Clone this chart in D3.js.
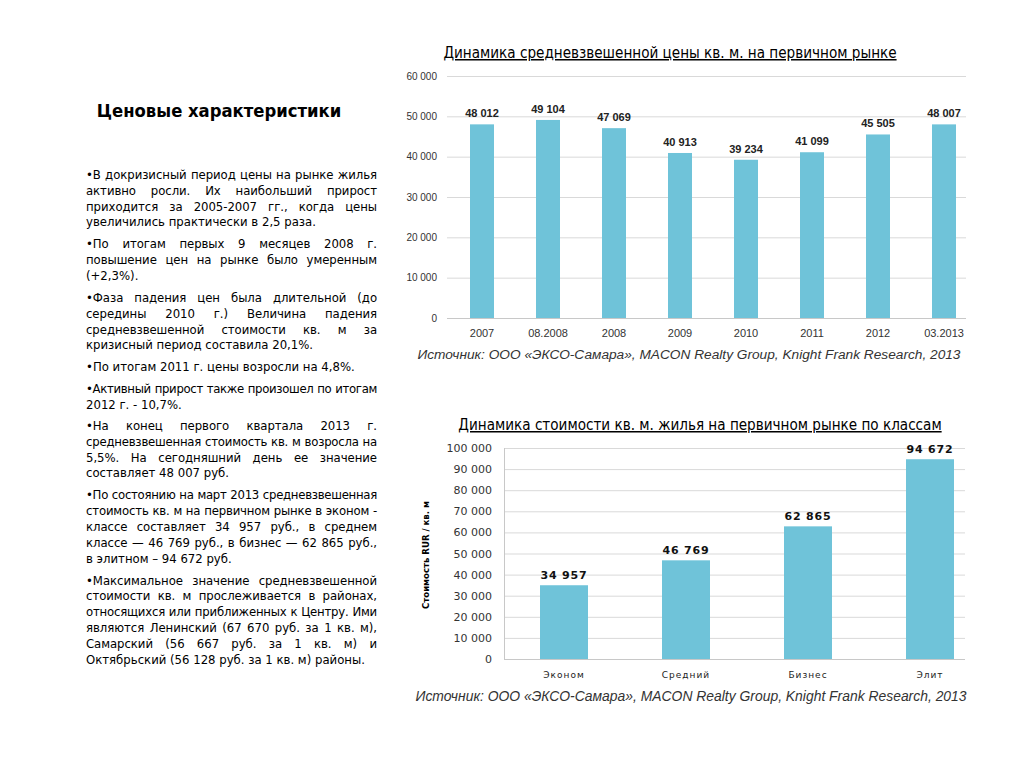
<!DOCTYPE html>
<html><head><meta charset="utf-8">
<script src="https://cdn.jsdelivr.net/npm/d3@7"></script>
<style>
body{margin:0;background:#fff;}
#wrap{position:relative;width:1024px;height:768px;overflow:hidden;}
svg{position:absolute;left:0;top:0;}
#txt{position:absolute;left:86px;top:167px;width:291px;font-family:"DejaVu Sans Condensed","DejaVu Sans";font-stretch:condensed;font-size:13px;color:#000;}
.ln{height:15.8px;line-height:15.8px;white-space:nowrap;text-align:justify;text-align-last:justify;}
.ln.last{text-align-last:left;}
.p{margin-bottom:6.2px;}
</style></head>
<body><div id="wrap"><svg id="chart" width="1024" height="768"></svg><div id="txt"></div></div>
<script>
// ---- data ----
const years = ["2007","08.2008","2008","2009","2010","2011","2012","03.2013"];
const avgPrice = [48012,49104,47069,40913,39234,41099,45505,48007];
const yTicksTop = [0,10000,20000,30000,40000,50000,60000];
const classes = ["Эконом","Средний","Бизнес","Элит"];
const classPrice = [34957,46769,62865,94672];
const yTicksBottom = [0,10000,20000,30000,40000,50000,60000,70000,80000,90000,100000];
const titleTop = "Динамика средневзвешенной цены кв. м. на первичном рынке";
const titleBottom = "Динамика стоимости кв. м. жилья на первичном рынке по классам";
const sourceText = "Источник: ООО «ЭКСО-Самара», MACON Realty Group, Knight Frank Research, 2013";
const yTitleBottom = "Стоимость RUR / кв. м";
const heading = "Ценовые характеристики";
const paragraphs = [
 ["•В докризисный период цены на рынке жилья","активно росли. Их наибольший прирост","приходится за 2005-2007 гг., когда цены","увеличились практически в 2,5 раза."],
 ["•По итогам первых 9 месяцев 2008 г.","повышение цен на рынке было умеренным","(+2,3%)."],
 ["•Фаза падения цен была длительной (до","середины 2010 г.) Величина падения","средневзвешенной стоимости кв. м за","кризисный период составила 20,1%."],
 ["•По итогам 2011 г. цены возросли на 4,8%."],
 ["•Активный прирост также произошел по итогам","2012 г. - 10,7%."],
 ["•На конец первого квартала 2013 г.","средневзвешенная стоимость кв. м возросла на","5,5%. На сегодняшний день ее значение","составляет 48 007 руб."],
 ["•По состоянию на март 2013 средневзвешенная","стоимость кв. м на первичном рынке в эконом -","классе составляет 34 957 руб., в среднем","классе — 46 769 руб., в бизнес — 62 865 руб.,","в элитном – 94 672 руб."],
 ["•Максимальное значение средневзвешенной","стоимости кв. м прослеживается в районах,","относящихся или приближенных к Центру. Ими","являются Ленинский (67 670 руб. за 1 кв. м),","Самарский (56 667 руб. за 1 кв. м) и","Октябрьский (56 128 руб. за 1 кв. м) районы."]
];

const fmt = v => d3.format(",")(v).replace(/,/g, " ");
const barColor = "#6FC3D9";
const svg = d3.select("#chart");

// ---- left text ----
const txt = d3.select("#txt");
paragraphs.forEach((lines, pi) => {
  const p = txt.append("div").attr("class", "p");
  if (pi === 4) p.style("margin-top", "4px");
  if (pi === 5) p.style("margin-top", "-1px");
  lines.forEach((l, i) => {
    p.append("div").attr("class", "ln" + (i === lines.length - 1 ? " last" : "")).text(l);
  });
});
// shrink letter spacing on lines that would overflow the column
txt.selectAll(".ln").each(function() {
  const el = this;
  const span = document.createElement("span");
  span.textContent = el.textContent;
  span.style.whiteSpace = "nowrap";
  el.textContent = "";
  el.appendChild(span);
  const w = span.getBoundingClientRect().width;
  if (w > 289) {
    const n = span.textContent.length;
    el.style.letterSpacing = (-(w - 289) / n) + "px";
  }
  el.textContent = span.textContent;
});
svg.append("text").attr("x", 219).attr("y", 117).attr("text-anchor", "middle")
  .style("font-family", "'DejaVu Sans Condensed','DejaVu Sans'").style("font-weight", "bold")
  .style("font-size", "18.3px").text(heading);

// ---- top chart ----
const x1 = d3.scaleBand().domain(years).range([449, 977]).padding(0);
const y1 = d3.scaleLinear().domain([0, 60000]).range([318, 76]);
const g1 = svg.append("g");
const gridTop = g1.append("g").attr("transform", "translate(447,0)")
  .call(d3.axisLeft(y1).tickValues(yTicksTop).tickSize(-(966 - 447)).tickPadding(10).tickFormat(fmt));
gridTop.select(".domain").remove();
gridTop.selectAll(".tick line").attr("stroke", "#d9d9d9");
gridTop.selectAll(".tick text").attr("fill", "#333").style("font-family", "'Liberation Sans',Arial").style("font-size", "10px");
const bw1 = 24;
g1.selectAll("rect.b1").data(years).join("rect").attr("class", "b1")
  .attr("x", d => x1(d) + (x1.bandwidth() - bw1) / 2).attr("width", bw1)
  .attr("y", (d, i) => y1(avgPrice[i])).attr("height", (d, i) => y1(0) - y1(avgPrice[i]))
  .attr("fill", barColor);
g1.selectAll("text.v1").data(years).join("text").attr("class", "v1")
  .attr("x", d => x1(d) + x1.bandwidth() / 2).attr("y", (d, i) => y1(avgPrice[i]) - 7)
  .attr("text-anchor", "middle").style("font-family", "'Liberation Sans',Arial")
  .style("font-weight", "bold").style("font-size", "11px").attr("fill", "#222")
  .text((d, i) => fmt(avgPrice[i]));
const xAx1 = g1.append("g").attr("transform", "translate(0,318)")
  .call(d3.axisBottom(x1).tickSize(0).tickPadding(11));
xAx1.select(".domain").attr("stroke", "#c8c8c8").attr("d", "M447,0.5H966");
xAx1.selectAll("text").attr("fill", "#333").style("font-family", "'Liberation Sans',Arial").style("font-size", "11px");
svg.append("text").attr("x", 670).attr("y", 58).attr("text-anchor", "middle")
  .style("font-family", "'DejaVu Sans Condensed','DejaVu Sans'").style("font-size", "15.1px")
  .style("text-decoration", "underline").text(titleTop);
svg.append("text").attr("x", 689).attr("y", 359).attr("text-anchor", "middle")
  .style("font-family", "'Liberation Sans',Arial").style("font-style", "italic")
  .style("font-size", "13.7px").attr("fill", "#333").text(sourceText);

// ---- bottom chart ----
const x2 = d3.scaleBand().domain(classes).range([503, 991]).padding(0);
const y2 = d3.scaleLinear().domain([0, 100000]).range([659, 448]);
const g2 = svg.append("g");
const gridB = g2.append("g").attr("transform", "translate(504,0)")
  .call(d3.axisLeft(y2).tickValues(yTicksBottom).tickSize(-(965 - 504)).tickPadding(12).tickFormat(fmt));
gridB.select(".domain").remove();
gridB.selectAll(".tick line").attr("stroke", "#d9d9d9");
gridB.selectAll(".tick text").attr("fill", "#333").style("font-family", "'DejaVu Sans'").style("font-size", "11px");
g2.append("line").attr("x1", 504.5).attr("x2", 504.5).attr("y1", 448).attr("y2", 659).attr("stroke", "#c8c8c8");
const bw2 = 48;
g2.selectAll("rect.b2").data(classes).join("rect").attr("class", "b2")
  .attr("x", d => x2(d) + (x2.bandwidth() - bw2) / 2).attr("width", bw2)
  .attr("y", (d, i) => y2(classPrice[i])).attr("height", (d, i) => y2(0) - y2(classPrice[i]))
  .attr("fill", barColor);
g2.selectAll("text.v2").data(classes).join("text").attr("class", "v2")
  .attr("x", d => x2(d) + x2.bandwidth() / 2).attr("y", (d, i) => y2(classPrice[i]) - 6)
  .attr("text-anchor", "middle").style("font-family", "'DejaVu Sans'")
  .style("font-weight", "bold").style("font-size", "11px").style("letter-spacing", "0.8px").attr("fill", "#111")
  .text((d, i) => fmt(classPrice[i]));
const xAx2 = g2.append("g").attr("transform", "translate(0,659)")
  .call(d3.axisBottom(x2).tickSize(0).tickPadding(13));
xAx2.select(".domain").attr("stroke", "#c8c8c8").attr("d", "M504,0.5H965");
xAx2.selectAll("text").attr("fill", "#222").style("font-family", "'DejaVu Sans'").style("font-size", "9px").style("letter-spacing", "1px");
svg.append("text").attr("transform", "translate(429,555) rotate(-90)").attr("text-anchor", "middle")
  .style("font-family", "'DejaVu Sans Condensed','DejaVu Sans'").style("font-weight", "bold")
  .style("font-size", "9.5px").text(yTitleBottom);
svg.append("text").attr("x", 700).attr("y", 430).attr("text-anchor", "middle")
  .style("font-family", "'DejaVu Sans Condensed','DejaVu Sans'").style("font-size", "15.1px")
  .style("text-decoration", "underline").text(titleBottom);
svg.append("text").attr("x", 691).attr("y", 701).attr("text-anchor", "middle")
  .style("font-family", "'Liberation Sans',Arial").style("font-style", "italic")
  .style("font-size", "13.9px").attr("fill", "#333").text(sourceText);
</script></body></html>
